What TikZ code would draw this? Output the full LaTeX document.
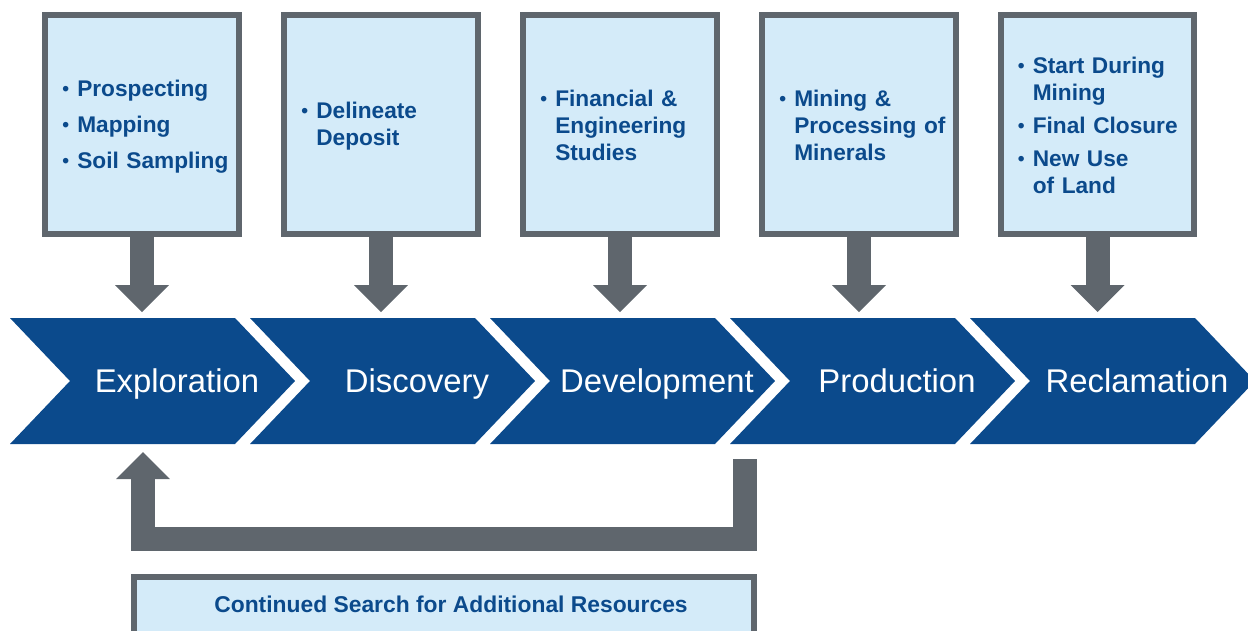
\documentclass[tikz,border=0pt]{standalone}
\usepackage{fontspec}
\setmainfont{Liberation Sans}
\usetikzlibrary{arrows.meta,calc}

\definecolor{stageblue}{HTML}{0B4A8C}
\definecolor{framegray}{HTML}{5F666D}
\definecolor{paleblue}{HTML}{D4EBF9}

\newcommand\bitem[1]{\par\hangindent=8.5pt\hangafter=1\noindent\makebox[8.5pt][l]{\raisebox{0.6pt}{\fontsize{11}{11}\selectfont\textbullet}}#1\par}

\begin{document}
\begin{tikzpicture}[x=0.02cm,y=-0.02cm,
  infobox/.style={draw=framegray,fill=paleblue,line width=0.12cm,minimum width=3.88cm,minimum height=4.38cm,inner sep=0pt},
  infotext/.style={anchor=west,inner sep=0pt,text width=3.4cm,align=left,text=stageblue,
    font=\fontsize{12.9}{15.4}\selectfont\bfseries,execute at begin node={\setlength{\parskip}{#1}}},
  infotext/.default=3.4pt,
  stage/.style={fill=stageblue},
  stagetext/.style={anchor=base,text=white,inner sep=0pt,font=\fontsize{18.7}{22}\selectfont},
  fat/.style={draw=framegray,line width=0.48cm,-{Triangle[width=1.08cm,length=0.54cm,line width=0pt]}}]
\useasboundingbox (0,0) rectangle (1248,630);

\node[infobox] (b1) at (142,124.5) {};
\node[infobox] (b2) at (381,124.5) {};
\node[infobox] (b3) at (620,124.5) {};
\node[infobox] (b4) at (859,124.5) {};
\node[infobox] (b5) at (1097.5,124.5) {};

\node[infotext=5.1pt] (t1) at ($(b1.west)+(20,-8)$) {\bitem{Prospecting}\bitem{Mapping}\bitem{Soil Sampling}};
\node[infotext] (t2) at ($(b2.west)+(20,-7)$) {\bitem{Delineate\newline Deposit}};
\node[infotext] (t3) at ($(b3.west)+(20,-7)$) {\bitem{Financial \&\newline Engineering\newline Studies}};
\node[infotext] (t4) at ($(b4.west)+(20,-7)$) {\bitem{Mining \&\newline Processing of\newline Minerals}};
\node[infotext] (t5) at ($(b5.west)+(20,-7)$) {\bitem{Start During\newline Mining}\bitem{Final Closure}\bitem{New Use\newline of Land}};

% the five stages
\foreach \lab [count=\i] in {Exploration,Discovery,Development,Production,Reclamation}{
  \pgfmathsetmacro{\L}{10+240*(\i-1)}
  \fill[stage] (\L,318) -- ++(225,0) -- ++(60,63) -- ++(-60,63) -- ++(-225,0) -- ++(60,-63) -- cycle;
  \node[stagetext] (s\i) at (\L+167,392) {\lab};
  \coordinate (top\i) at (\L,312);
}

\foreach \i in {1,...,5}
  \draw[fat] (b\i.south) -- (b\i.south |- top\i);

% loop back to exploration
\coordinate (back) at (745,459);
\coordinate (again) at (143,452);
\draw[fat] (back) -- ++(0,80) -| (again);

\node[infobox,minimum width=12.4cm,minimum height=1.66cm] (fb) at (444,618.5) {};
\node[anchor=base,inner sep=0pt,text=stageblue,font=\fontsize{13}{15}\selectfont\bfseries] (fbt) at (451,612) {Continued Search for Additional Resources};
\end{tikzpicture}
\end{document}
